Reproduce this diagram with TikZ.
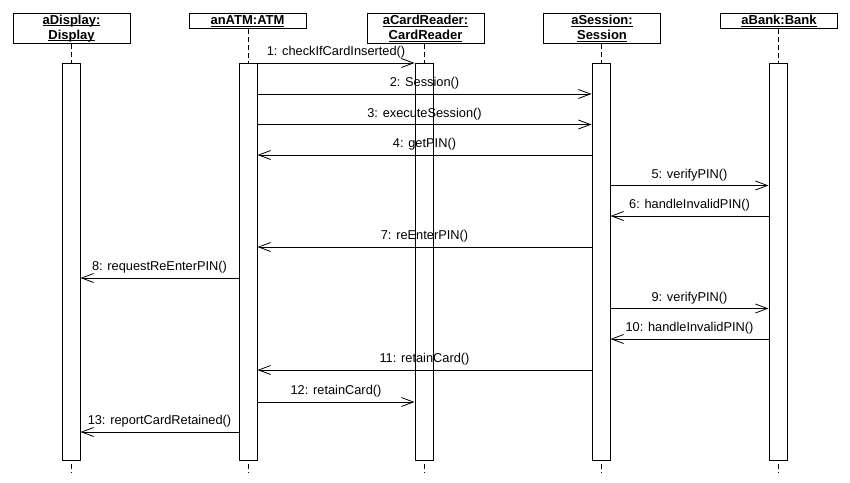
\documentclass[tikz,border=0pt]{standalone}
\usepackage{fontspec}
\setmainfont{Liberation Sans}
\usetikzlibrary{arrows.meta}
\tikzstyle{msg} = [line width=0.8pt,-{Straight Barb[length=12pt,width=9pt]}]
\newlength{\unamewd}
\newcommand{\uname}[1]{\settowidth{\unamewd}{#1}\rlap{\rule[-2pt]{\unamewd}{0.9pt}}#1}

\begin{document}
\begin{tikzpicture}[x=1pt, y=-1pt,
				obj/.style={draw, line width=1pt, minimum width=117pt, inner sep=1pt, align=center, anchor=north, font=\fontsize{13}{15}\selectfont\bfseries},
				bar/.style={draw, fill=white, line width=1pt, minimum width=18pt, minimum height=397pt, inner sep=0pt, anchor=north},
				life/.style={line width=0.8pt, dash pattern=on 5pt off 3pt},
				lbl/.style={midway, above=1pt, font=\fontsize{12.8}{15}\selectfont}
				]
				\useasboundingbox (0,0) rectangle (850,482);
				
				\node (display) at (71.5,13) [obj, minimum height=30pt] {\uname{aDisplay:}\\ \uname{Display}};
				\node (atm) at (247.5,13) [obj, minimum height=15pt] {\uname{anATM:ATM}};
				\node (cardReader) at (425.5,13) [obj, minimum height=30pt] {\uname{aCardReader:}\\ \uname{CardReader}};
				\node (session) at (602,13) [obj, minimum height=30pt] {\uname{aSession:}\\ \uname{Session}};
				\node (bank) at (779,13) [obj, minimum height=15pt] {\uname{aBank:Bank}};
				
				\node (displayBar) at (71,63) [bar] {};
				\node (atmBar) at (248,63) [bar] {};
				\node (cardBar) at (424,63) [bar] {};
				\node (sessionBar) at (601,63) [bar] {};
				\node (bankBar) at (778,63) [bar] {};
				
				\draw[life] (display.south -| displayBar.north) -- (displayBar.north);
				\draw[life] (atm.south -| atmBar.north) -- (atmBar.north);
				\draw[life] (cardReader.south -| cardBar.north) -- (cardBar.north);
				\draw[life] (session.south -| sessionBar.north) -- (sessionBar.north);
				\draw[life] (bank.south -| bankBar.north) -- (bankBar.north);
				\draw[life] ([yshift=-3pt]displayBar.south) -- ++(0,9);
				\draw[life] ([yshift=-3pt]atmBar.south) -- ++(0,9);
				\draw[life] ([yshift=-3pt]cardBar.south) -- ++(0,9);
				\draw[life] ([yshift=-3pt]sessionBar.south) -- ++(0,9);
				\draw[life] ([yshift=-3pt]bankBar.south) -- ++(0,9);
				
				\draw[msg] (atmBar.north east) -- (cardBar.north west) node[lbl] {1: checkIfCardInserted()};
				\draw[msg] ([yshift=-31pt]atmBar.north east) -- ([yshift=-31pt]sessionBar.north west) node[lbl] {2: Session()};
				\draw[msg] ([yshift=-61.5pt]atmBar.north east) -- ([yshift=-61.5pt]sessionBar.north west) node[lbl] {3: executeSession()};
				\draw[msg] ([yshift=-92pt]sessionBar.north west) -- ([yshift=-92pt]atmBar.north east) node[lbl] {4: getPIN()};
				\draw[msg] ([yshift=-122.5pt]sessionBar.north east) -- ([yshift=-122.5pt]bankBar.north west) node[lbl] {5: verifyPIN()};
				\draw[msg] ([yshift=-153pt]bankBar.north west) -- ([yshift=-153pt]sessionBar.north east) node[lbl] {6: handleInvalidPIN()};
				\draw[msg] ([yshift=-184pt]sessionBar.north west) -- ([yshift=-184pt]atmBar.north east) node[lbl] {7: reEnterPIN()};
				\draw[msg] ([yshift=-215pt]atmBar.north west) -- ([yshift=-215pt]displayBar.north east) node[lbl] {8: requestReEnterPIN()};
				\draw[msg] ([yshift=-245.5pt]sessionBar.north east) -- ([yshift=-245.5pt]bankBar.north west) node[lbl] {9: verifyPIN()};
				\draw[msg] ([yshift=-276pt]bankBar.north west) -- ([yshift=-276pt]sessionBar.north east) node[lbl] {10: handleInvalidPIN()};
				\draw[msg] ([yshift=-307pt]sessionBar.north west) -- ([yshift=-307pt]atmBar.north east) node[lbl] {11: retainCard()};
				\draw[msg] ([yshift=-339pt]atmBar.north east) -- ([yshift=-339pt]cardBar.north west) node[lbl] {12: retainCard()};
				\draw[msg] ([yshift=-369pt]atmBar.north west) -- ([yshift=-369pt]displayBar.north east) node[lbl] {13: reportCardRetained()};
			\end{tikzpicture}
\end{document}
